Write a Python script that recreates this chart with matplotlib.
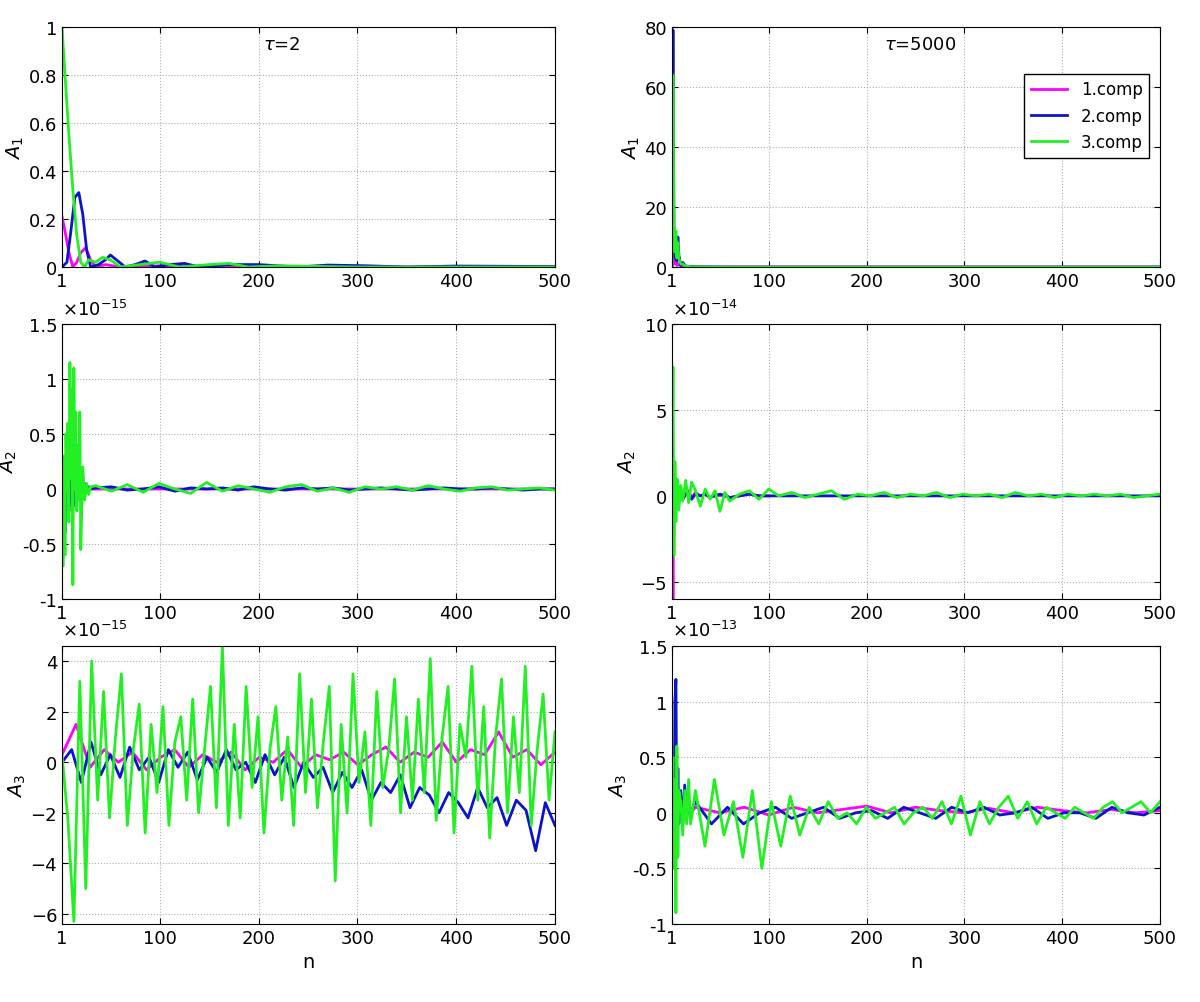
import numpy as np
import matplotlib.pyplot as plt

# ---------------- data ----------------
# panel (1,1): A1, tau=2
a1l_n_m = [1, 4, 8, 12, 16, 20, 25, 30, 35, 45, 60, 100, 200, 500]
a1l_m = [0.21, 0.15, 0.06, 0.0, 0.02, 0.06, 0.08, 0.03, 0.0, 0.01, 0.0, 0.005, 0.0, 0.0]
a1l_n_b = [1, 6, 10, 14, 18, 22, 26, 30, 38, 45, 50, 56, 65, 75, 85, 95, 110, 125, 140, 170, 200, 240, 270, 310, 350, 400, 500]
a1l_b = [0.0, 0.02, 0.15, 0.29, 0.31, 0.22, 0.07, 0.0, 0.01, 0.03, 0.05, 0.03, 0.0, 0.01, 0.025, 0.0, 0.01, 0.015, 0.0, 0.01, 0.01, 0.0, 0.008, 0.005, 0.0, 0.004, 0.002]
a1l_n_g = [1, 4, 8, 12, 16, 20, 24, 28, 35, 42, 50, 60, 80, 100, 120, 150, 170, 190, 220, 300, 500]
a1l_g = [1.0, 0.8, 0.55, 0.32, 0.13, 0.02, 0.0, 0.03, 0.02, 0.04, 0.03, 0.0, 0.01, 0.02, 0.0, 0.01, 0.015, 0.0, 0.005, 0.0, 0.0]

# panel (1,2): A1, tau=5000
a1r_n = [1, 2, 3, 4, 5, 6, 7, 8, 10, 12, 15, 20, 30, 50, 100, 500]
a1r_m = [0, 2, 5, 1, 3, 0.5, 1, 0.8, 0.2, 0.3, 0.1, 0.05, 0.02, 0.0, 0.0, 0.0]
a1r_b = [0, 79, 10, 3, 9, 2, 10, 4, 0.5, 1.5, 0.3, 0.2, 0.05, 0.0, 0.0, 0.0]
a1r_g = [0, 64, 15, 5, 12, 3, 8, 3, 1, 1, 0.3, 0.1, 0.05, 0.0, 0.0, 0.0]

# panel (2,1): A2 x1e-15
a2l_n = [1, 2, 3, 4, 5, 6, 7, 8, 9, 10, 11, 12, 13, 14, 15, 16, 17, 18, 19, 20, 22, 24, 26, 28, 30]
a2l_m = [0.0, 0.25, -0.3, 0.2, 0.1, -0.2, 0.15, 0.05, -0.1, 0.2, -0.15, 0.1, 0.0, 0.1, -0.1, 0.05, 0.0, 0.05, -0.02, 0.03, 0.0, 0.02, 0.0, 0.01, 0.0]
a2l_b = [0.0, 0.1, 0.25, -0.4, 0.2, -0.1, 0.15, -0.2, 0.1, 0.05, -0.1, 0.2, -0.15, 0.25, -0.1, 0.1, -0.05, 0.08, -0.1, 0.05, 0.0, 0.05, -0.03, 0.02, 0.0]
a2l_g = [0.0, -0.7, 0.3, -0.6, 0.5, 0.0, 0.6, -0.3, 1.15, 0.1, 0.9, -0.87, 1.1, 0.0, 0.7, -0.2, 0.4, -0.1, 0.7, -0.55, 0.2, -0.1, 0.05, -0.05, 0.02]
a2l_tail_g = [0.03, -0.02, 0.04, -0.03, 0.05, 0.0, -0.04, 0.06, -0.02, 0.03, 0.0, -0.03, 0.02, 0.04, -0.02, 0.01, -0.03, 0.02, 0.0, 0.02, -0.01, 0.03, 0.0, -0.02, 0.01, 0.02, -0.01, 0.0, 0.01, -0.01]
a2l_tail_b = [0.01, 0.02, -0.01, 0.0, 0.02, -0.02, 0.01, 0.0, 0.01, -0.01, 0.02, 0.0, -0.01, 0.01, 0.0, 0.01, -0.01, 0.0, 0.01, 0.0, -0.01, 0.0, 0.01, 0.0, 0.0, 0.01, 0.0, -0.01, 0.0, 0.0]

# panel (2,2): A2 x1e-14
a2r_n = [1, 2, 3, 4, 5, 6, 7, 8, 10, 12, 15, 18, 21, 25, 30, 35, 40, 45, 50, 55, 60, 70, 80, 90, 100]
a2r_m = [0.0, -6.0, 1.0, -0.5, 0.8, 0.2, 0.5, 0.0, 0.3, -0.2, 0.1, 0.3, -0.1, 0.2, 0.0, 0.1, -0.1, 0.1, 0.0, 0.1, -0.1, 0.0, 0.1, 0.0, 0.0]
a2r_b = [0.0, -2.0, 0.5, -0.5, 0.3, -0.3, 0.2, 0.0, 0.3, -0.2, 0.1, 0.2, -0.2, 0.1, 0.0, 0.1, -0.1, 0.0, 0.1, 0.0, -0.1, 0.0, 0.1, 0.0, 0.0]
a2r_g = [0.0, 7.5, -3.5, 2.0, -1.5, 1.0, 0.8, -0.8, 0.6, -0.3, 0.9, -0.4, 0.8, 0.3, -0.6, 0.4, -0.2, 0.3, -0.9, 0.2, -0.3, 0.1, 0.3, -0.2, 0.4]
a2r_tail_g = [0.0, 0.2, -0.1, 0.1, 0.3, -0.2, 0.1, 0.0, 0.2, -0.1, 0.1, 0.0, 0.2, -0.1, 0.1, 0.0, 0.1, -0.1, 0.2, 0.0, 0.1, -0.1, 0.1, 0.0, 0.1, 0.0, 0.1, -0.1, 0.0, 0.1]

# panel (3,1): A3 x1e-15
a3l_g = [0.3, -2.3, -6.3, 3.2, -5.0, 4.0, -1.5, 2.8, -2.2, 1.0, 3.5, -2.5, 0.5, 2.3, -2.8, 1.5, -1.2, 2.2, -2.5, 0.8,
         1.8, -1.5, 2.5, -2.0, 0.5, 3.0, -1.8, 4.6, -2.5, 1.5, -2.2, 3.0, -1.0, 1.8, -2.8, 0.5, 2.2, -1.5, 1.0, -2.5,
         3.5, -1.2, 2.5, -1.8, 0.8, 3.0, -4.7, 1.5, -2.0, 3.5, -0.8, 1.2, -2.5, 2.8, -1.0, 0.5, 3.3, -2.0, 1.8, -1.5,
         2.5, -1.2, 4.1, -2.3, 1.0, 3.0, -2.8, 1.5, 0.2, 3.8, -1.5, 2.2, -3.0, 1.0, 3.3, -2.0, 1.8, -1.2, 3.8, -2.5,
         0.5, 2.7, -1.5, 1.2]
a3l_b = [0.0, 0.5, -0.8, 0.8, -0.5, 0.3, -0.6, 0.6, -0.3, 0.2, -0.8, 0.5, -0.2, 0.4, -0.7, 0.2, -0.4, 0.5, -0.3, 0.0,
         -0.8, 0.3, -0.5, 0.2, -1.0, 0.0, -0.6, -0.2, -1.2, -0.4, -1.0, -0.3, -1.5, -0.8, -1.2, -0.5, -1.8, -1.0, -1.3, -2.0,
         -1.2, -1.6, -2.2, -1.0, -1.8, -1.4, -2.5, -1.5, -1.9, -3.5, -1.6, -2.5]
a3l_m = [0.3, 1.5, -0.2, 0.5, 0.0, 0.4, -0.3, 0.2, 0.5, -0.2, 0.3, 0.0, 0.4, -0.3, 0.2, 0.0, 0.5, -0.2, 0.3, 0.1,
         0.4, -0.1, 0.3, 0.6, 0.0, 0.4, 0.2, 0.8, 0.0, 0.5, 0.3, 1.2, 0.2, 0.5, -0.1, 0.4]

# panel (3,2): A3 x1e-13
a3r_n = [1, 2, 3, 4, 5, 6, 7, 8, 10, 12, 14, 16, 18, 20]
a3r_m = [0.0, 0.3, -0.2, 0.5, 0.1, -0.1, 0.2, 0.0, 0.1, -0.05, 0.1, 0.0, 0.05, 0.0]
a3r_b = [0.0, 0.3, -0.3, 1.0, 1.2, -0.2, 0.4, -0.1, 0.2, -0.1, 0.25, -0.05, 0.1, 0.0]
a3r_g = [0.0, 0.5, -0.5, 0.3, -0.9, 0.6, -0.4, 0.2, 0.1, -0.2, 0.2, -0.1, 0.3, -0.1]
a3r_tail_g = [0.2, -0.3, 0.3, -0.2, 0.1, -0.4, 0.2, -0.5, 0.1, -0.3, 0.15, -0.2, 0.05, -0.1, 0.1, -0.05, 0.0, -0.1, 0.05, -0.05,
              0.0, 0.05, -0.1, 0.0, 0.05, -0.05, 0.1, -0.1, 0.15, -0.2, 0.1, -0.1, 0.05, 0.15, -0.05, 0.1, -0.1, 0.05, 0.0, -0.05,
              0.05, 0.0, -0.05, 0.05, 0.1, 0.0, 0.05, 0.1, 0.0, 0.1]
a3r_tail_b = [0.1, -0.1, 0.05, -0.1, 0.0, 0.05, -0.05, 0.0, 0.05, -0.05, 0.0, 0.02, -0.05, 0.05, 0.0, -0.05, 0.05, 0.0, 0.05, -0.02,
              0.0, 0.05, -0.05, 0.0, 0.0, -0.05, 0.05, 0.0, -0.02, 0.05]
a3r_tail_m = [0.05, 0.0, 0.05, -0.02, 0.05, 0.0, 0.03, 0.06, 0.0, 0.05, 0.02, 0.0, 0.04, 0.0, 0.05, 0.02, 0.0, 0.03, 0.0, 0.02]

C_M = '#ff00ff'
C_B = '#0a14c8'
C_G = '#22f022'

fig = plt.figure(figsize=(12, 10.03), dpi=100)
W, H = 1200, 1003
cols = [(62, 555), (672, 1160)]
rows = [(28, 268), (325, 600), (647, 925)]
axes = {}
for r, (t, b) in enumerate(rows):
    for c, (l, rr) in enumerate(cols):
        axes[(r, c)] = fig.add_axes([l / W, 1 - b / H, (rr - l) / W, (b - t) / H])


def tail_n(start, vals):
    return np.linspace(start, 500, len(vals))


lw = 2.0
ax = axes[(0, 0)]
ax.plot(a1l_n_m, a1l_m, color=C_M, lw=lw)
ax.plot(a1l_n_b, a1l_b, color=C_B, lw=lw)
ax.plot(a1l_n_g, a1l_g, color=C_G, lw=lw)
ax.set_ylim(0, 1)
ax.set_yticks([0, 0.2, 0.4, 0.6, 0.8, 1])
ax.set_yticklabels(['0', '0.2', '0.4', '0.6', '0.8', '1'])
ax.text(224, 0.91, r'$\tau$=2', fontsize=13, ha='center')
ax.set_ylabel('$A_1$', fontsize=14)

ax = axes[(0, 1)]
ax.plot(a1r_n, a1r_m, color=C_M, lw=lw, label='1.comp')
ax.plot(a1r_n, a1r_b, color=C_B, lw=lw, label='2.comp')
ax.plot(a1r_n, a1r_g, color=C_G, lw=lw, label='3.comp')
ax.set_ylim(0, 80)
ax.text(255, 72.5, r'$\tau$=5000', fontsize=13, ha='center')
ax.set_ylabel('$A_1$', fontsize=14)
ax.legend(loc='upper right', bbox_to_anchor=(0.995, 0.84), fontsize=12, framealpha=1,
          edgecolor='black', fancybox=False, handlelength=2.2)

ax = axes[(1, 0)]
ax.plot(list(a2l_n) + list(tail_n(35, a2l_tail_b)), a2l_m + [0.0] * len(a2l_tail_b), color=C_M, lw=lw)
ax.plot(list(a2l_n) + list(tail_n(35, a2l_tail_b)), a2l_b + a2l_tail_b, color=C_B, lw=lw)
ax.plot(list(a2l_n) + list(tail_n(35, a2l_tail_g)), a2l_g + a2l_tail_g, color=C_G, lw=lw)
ax.set_ylim(-1, 1.5)
ax.set_yticks([-1, -0.5, 0, 0.5, 1, 1.5])
ax.set_yticklabels(['-1', '-0.5', '0', '0.5', '1', '1.5'])
ax.set_ylabel('$A_2$', fontsize=14)
ax.text(0, 1.02, r'$\times10^{-15}$', transform=ax.transAxes, fontsize=13, va='bottom')

ax = axes[(1, 1)]
ax.plot(a2r_n, a2r_m, color=C_M, lw=lw)
ax.plot(a2r_n + [500], a2r_b + [0.0], color=C_B, lw=lw)
ax.plot(a2r_n + list(tail_n(110, a2r_tail_g)), a2r_g + a2r_tail_g, color=C_G, lw=lw)
ax.set_ylim(-6, 10)
ax.set_yticks([-5, 0, 5, 10])
ax.set_ylabel('$A_2$', fontsize=14)
ax.text(0, 1.02, r'$\times10^{-14}$', transform=ax.transAxes, fontsize=13, va='bottom')

ax = axes[(2, 0)]
ax.plot(tail_n(1, a3l_m), a3l_m, color=C_M, lw=lw)
ax.plot(tail_n(1, a3l_b), a3l_b, color=C_B, lw=lw)
ax.plot(tail_n(1, a3l_g), a3l_g, color=C_G, lw=lw)
ax.set_ylim(-6.4, 4.6)
ax.set_yticks([-6, -4, -2, 0, 2, 4])
ax.set_ylabel('$A_3$', fontsize=14)
ax.text(0, 1.02, r'$\times10^{-15}$', transform=ax.transAxes, fontsize=13, va='bottom')

ax = axes[(2, 1)]
ax.plot(a3r_n + list(tail_n(25, a3r_tail_m)), a3r_m + a3r_tail_m, color=C_M, lw=lw)
ax.plot(a3r_n + list(tail_n(25, a3r_tail_b)), a3r_b + a3r_tail_b, color=C_B, lw=lw)
ax.plot(a3r_n + list(tail_n(25, a3r_tail_g)), a3r_g + a3r_tail_g, color=C_G, lw=lw)
ax.set_ylim(-1, 1.5)
ax.set_yticks([-1, -0.5, 0, 0.5, 1, 1.5])
ax.set_yticklabels(['-1', '-0.5', '0', '0.5', '1', '1.5'])
ax.set_ylabel('$A_3$', fontsize=14)
ax.text(0, 1.02, r'$\times10^{-13}$', transform=ax.transAxes, fontsize=13, va='bottom')

for (r, c), ax in axes.items():
    ax.set_xlim(1, 500)
    ax.set_xticks([1, 100, 200, 300, 400, 500])
    ax.tick_params(labelsize=13, direction='in', length=4, top=True, right=True)
    ax.grid(True, ls=':', color='#b0b0b0', lw=0.8)
    ax.yaxis.labelpad = 2
    for s in ax.spines.values():
        s.set_linewidth(0.8)
    if r == 2:
        ax.set_xlabel('n', fontsize=14)

fig.savefig('out.png', dpi=100)
